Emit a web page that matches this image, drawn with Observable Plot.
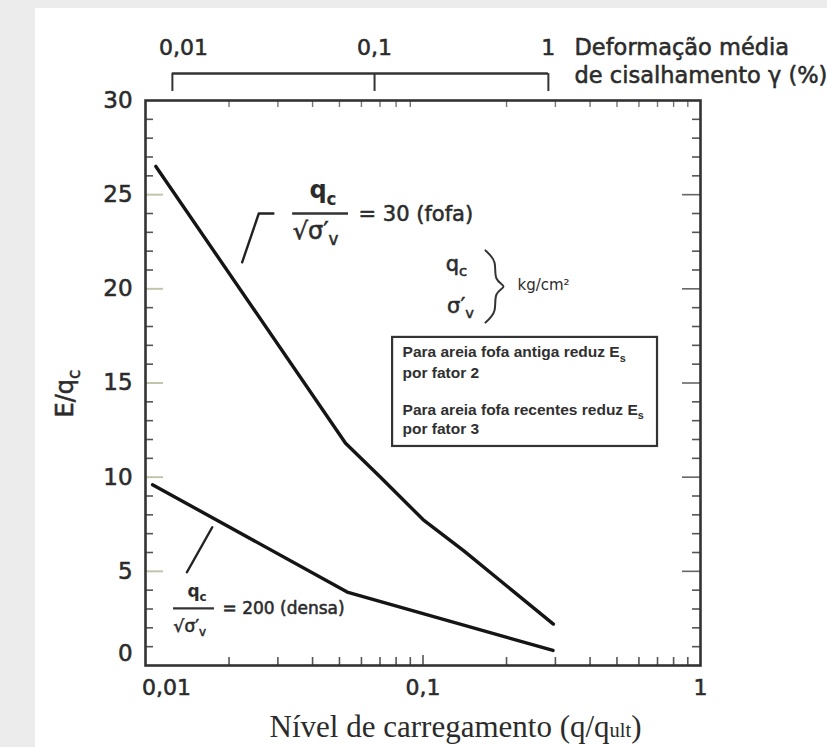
<!DOCTYPE html>
<html>
<head>
<meta charset="utf-8">
<script src="https://cdn.jsdelivr.net/npm/d3@7"></script>
<script src="https://cdn.jsdelivr.net/npm/@observablehq/plot@0.6"></script>
<style>
  html, body { margin: 0; padding: 0; background: #ececec; width: 827px; height: 747px; overflow: hidden; }
  #chart { position: absolute; left: 35px; top: 8px; width: 792px; height: 739px; background: #fff; }
</style>
</head>
<body>
<div id="chart"></div>
<script>
// ---- data ----
const fofaX = [0.0109, 0.0526, 0.0703, 0.100, 0.140, 0.295];   // qc/sqrt(sv) = 30 (fofa)
const fofaY = [26.5, 11.8, 10.0, 7.75, 6.1, 2.2];
const densaX = [0.0106, 0.0533, 0.294];                         // qc/sqrt(sv) = 200 (densa)
const densaY = [9.6, 3.9, 0.8];

const xTickValues = [0.01, 0.1, 1];
const xTickLabels = ["0,01", "0,1", "1"];
const yTickValues = [0, 5, 10, 15, 20, 25, 30];
const yTickLabels = ["0", "5", "10", "15", "20", "25", "30"];
const xMinorTicks = [0.02, 0.03, 0.04, 0.05, 0.06, 0.07, 0.08, 0.09, 0.2, 0.3, 0.4, 0.5, 0.6, 0.7, 0.8, 0.9];
const yMinorTicks = [1, 2, 3, 4, 6, 7, 8, 9, 11, 12, 13, 14, 16, 17, 18, 19, 21, 22, 23, 24, 26, 27, 28, 29];
const yMajorTicks = [5, 10, 15, 20, 25];

const strainTickLabels = ["0,01", "0,1", "1"];        // deformação média de cisalhamento (%)
const strainAtLoadLevel = [0.0125, 0.0669, 0.283];    // matching load level on the x scale

const xTitle = "Nível de carregamento (q/q~{ult})";
const yTitle = "E/q_{c}";
const topTitle = ["Deformação média", "de cisalhamento γ (%)"];
const boxLines = ["Para areia fofa antiga reduz E_{s}", "por fator 2", "Para areia fofa recentes reduz E_{s}", "por fator 3"];

// ---- annotation anchors, in data units (load level, E/qc) ----
const strainLabelY = 32.81, bracketY = 31.43, bracketTickEnd = 30.48;
const topTitleX = 0.3516, topTitleY = [32.81, 31.33];
const yTickLabelX = 0.00898, xTickLabelY = -1.17;
const xTitlePos = {x: 0.131, y: -3.29};
const yTitlePos = {x: 0.00515, y: 14.44};

const boxArea = {x1: 0.0777, x2: 0.700, y1: 11.63, y2: 17.42};
const boxTextX = 0.0844, boxLineY = [16.62, 15.51, 13.59, 12.53];

const fofaLeader = [{x: 0.0223, y: 21.41}, {x: 0.0256, y: 24.0}, {x: 0.0289, y: 24.0}];
const fofaNum = {x: 0.0436, y: 25.21}, fofaDen = {x: 0.0339, y: 23.08};
const fofaBar = {x1: 0.0339, x2: 0.0539, y: 24.0};
const fofaEq = {x: 0.0586, y: 23.95, text: "= 30 (fofa)"};

const densaLeader = [{x: 0.0141, y: 4.95}, {x: 0.0174, y: 7.34}];
const densaNum = {x: 0.01533, y: 3.95}, densaDen = {x: 0.01262, y: 2.09};
const densaBar = {x1: 0.01262, x2: 0.01772, y: 3.03};
const densaEq = {x: 0.01895, y: 3.03, text: "= 200 (densa)"};

const unitQc = {x: 0.132, y: 21.33}, unitSv = {x: 0.1365, y: 19.1};
const unitText = {x: 0.219, y: 20.18, text: "kg/cm²"};
const brace = [
  {x: 0.168, y: 22.04}, {x: 0.181, y: 21.40}, {x: 0.184, y: 20.55}, {x: 0.195, y: 20.12},
  {x: 0.184, y: 19.70}, {x: 0.181, y: 18.85}, {x: 0.168, y: 18.21}
];

// ---- build ----
const fofa = fofaX.map((x, i) => ({x, y: fofaY[i]}));
const densa = densaX.map((x, i) => ({x, y: densaY[i]}));
const FW = 555, FH = 565; // frame size in px, used for tick insets
const ink = "#2b2b2b";
const sans = "DejaVu Sans";
const heavy = {fill: ink, stroke: ink, strokeWidth: 0.55};

const plot = Plot.plot({
  width: 792, height: 739,
  marginLeft: 110, marginRight: 127, marginTop: 92, marginBottom: 82,
  x: {type: "log", domain: [0.01, 1], axis: null},
  y: {domain: [0, 30], axis: null},
  style: {background: "white", fontFamily: sans, color: ink, overflow: "visible"},
  marks: [
    Plot.rect([boxArea], {x1: "x1", x2: "x2", y1: "y1", y2: "y2", fill: "white", stroke: "#333", strokeWidth: 2.2}),
    // inward ticks
    Plot.tickY(yMinorTicks, {y: d => d, insetRight: FW - 8, stroke: "#555", strokeWidth: 1.6}),
    Plot.tickY(yMajorTicks, {y: d => d, insetRight: FW - 18, stroke: "#c4c4ac", strokeWidth: 2}),
    Plot.tickY(yMinorTicks, {y: d => d, insetLeft: FW - 8, stroke: "#555", strokeWidth: 1.6}),
    Plot.tickY(yMajorTicks, {y: d => d, insetLeft: FW - 18, stroke: "#666", strokeWidth: 1.6}),
    Plot.tickX(xMinorTicks, {x: d => d, insetTop: FH - 8, stroke: "#555", strokeWidth: 1.6}),
    Plot.tickX(xTickValues.slice(1, 2), {x: d => d, insetTop: FH - 10, stroke: "#555", strokeWidth: 1.6}),
    Plot.tickX(xMinorTicks, {x: d => d, insetBottom: FH - 7, stroke: "#777", strokeWidth: 1.4}),
    Plot.frame({stroke: "#333", strokeWidth: 2.6}),
    // curves
    Plot.line(fofa, {x: "x", y: "y", stroke: "#151515", strokeWidth: 3.4}),
    Plot.line(densa, {x: "x", y: "y", stroke: "#151515", strokeWidth: 3.4}),
    // tick labels
    Plot.text(yTickValues.slice(1), {x: () => yTickLabelX, y: d => d, text: (d, i) => yTickLabels[i + 1], textAnchor: "end", fontSize: 23, ...heavy}),
    Plot.text(yTickValues.slice(0, 1), {x: () => yTickLabelX, y: d => d, text: (d, i) => yTickLabels[i], textAnchor: "end", dy: -12, fontSize: 23, ...heavy}),
    Plot.text(xTickValues.slice(0, 1), {x: d => d, y: () => xTickLabelY, text: (d, i) => xTickLabels[i], dx: 21, fontSize: 22, ...heavy}),
    Plot.text(xTickValues.slice(1), {x: d => d, y: () => xTickLabelY, text: (d, i) => xTickLabels[i + 1], fontSize: 22, ...heavy}),
    Plot.text([xTitlePos], {x: "x", y: "y", text: () => xTitle, fontFamily: "Liberation Serif", fontSize: 31, fill: ink}),
    Plot.text([yTitlePos], {x: "x", y: "y", text: () => yTitle, rotate: -90, fontSize: 24, ...heavy}),
    // top strain scale (bracket)
    Plot.ruleY([bracketY], {x1: strainAtLoadLevel[0], x2: strainAtLoadLevel[2], stroke: "#333", strokeWidth: 2.6}),
    Plot.ruleX(strainAtLoadLevel, {x: d => d, y1: bracketY, y2: bracketTickEnd, stroke: "#333", strokeWidth: 2}),
    Plot.text(strainAtLoadLevel.slice(0, 1), {x: d => d, y: () => strainLabelY, text: (d, i) => strainTickLabels[i], dx: 11, fontSize: 22, ...heavy}),
    Plot.text(strainAtLoadLevel.slice(1), {x: d => d, y: () => strainLabelY, text: (d, i) => strainTickLabels[i + 1], fontSize: 22, ...heavy}),
    Plot.text(topTitle, {x: () => topTitleX, y: (d, i) => topTitleY[i], text: d => d, textAnchor: "start", fontSize: 22.5, ...heavy}),
    // fofa label
    Plot.line(fofaLeader, {x: "x", y: "y", stroke: "#222", strokeWidth: 2.4}),
    Plot.text([fofaNum], {x: "x", y: "y", text: () => "q_{c}", fontSize: 24, fontWeight: "bold", fill: ink}),
    Plot.ruleY([fofaBar], {x1: "x1", x2: "x2", y: "y", stroke: "#333", strokeWidth: 2.6}),
    Plot.text([fofaDen], {x: "x", y: "y", text: () => "√σ′_{v}", textAnchor: "start", fontSize: 24, ...heavy}),
    Plot.text([fofaEq], {x: "x", y: "y", text: "text", textAnchor: "start", fontSize: 21, ...heavy}),
    // units
    Plot.text([unitQc], {x: "x", y: "y", text: () => "q_{c}", fontSize: 21, ...heavy}),
    Plot.text([unitSv], {x: "x", y: "y", text: () => "σ′_{v}", fontSize: 21, ...heavy}),
    Plot.line(brace, {x: "x", y: "y", curve: "natural", stroke: "#333", strokeWidth: 2}),
    Plot.text([unitText], {x: "x", y: "y", text: "text", textAnchor: "start", fontSize: 15, fill: ink}),
    // box text
    Plot.text(boxLines, {x: () => boxTextX, y: (d, i) => boxLineY[i], text: d => d, textAnchor: "start",
      fontFamily: "Liberation Sans", fontWeight: "bold", fontSize: 15.5, fill: "#303030"}),
    // densa label
    Plot.line(densaLeader, {x: "x", y: "y", stroke: "#222", strokeWidth: 2.4}),
    Plot.text([densaNum], {x: "x", y: "y", text: () => "q_{c}", fontSize: 17, fontWeight: "bold", fill: ink}),
    Plot.ruleY([densaBar], {x1: "x1", x2: "x2", y: "y", stroke: "#333", strokeWidth: 2.2}),
    Plot.text([densaDen], {x: "x", y: "y", text: () => "√σ′_{v}", textAnchor: "start", fontSize: 17, ...heavy}),
    Plot.text([densaEq], {x: "x", y: "y", text: "text", textAnchor: "start", fontSize: 17, ...heavy})
  ]
});

document.getElementById("chart").append(plot);

// rich text: _{sub}, ^{sup}, ~{small}
function richify(root) {
  root.querySelectorAll("text").forEach(t => {
    const s = t.textContent;
    if (!/[_^~]\{/.test(s)) return;
    const fs = parseFloat(getComputedStyle(t).fontSize) || 16;
    while (t.firstChild) t.removeChild(t.firstChild);
    let shift = 0;
    const add = (str, kind) => {
      if (!str) return;
      const ts = document.createElementNS("http://www.w3.org/2000/svg", "tspan");
      ts.textContent = str;
      const target = kind === "_" ? 0.28 * fs : kind === "^" ? -0.4 * fs : 0;
      if (target !== shift) { ts.setAttribute("dy", target - shift); shift = target; }
      if (kind) ts.setAttribute("font-size", (kind === "~" ? 0.66 : 0.7) * fs);
      t.appendChild(ts);
    };
    const re = /([_^~])\{([^}]*)\}/g;
    let last = 0, m;
    while ((m = re.exec(s))) { add(s.slice(last, m.index), null); add(m[2], m[1]); last = re.lastIndex; }
    add(s.slice(last), null);
  });
}
richify(plot);
</script>
</body>
</html>
